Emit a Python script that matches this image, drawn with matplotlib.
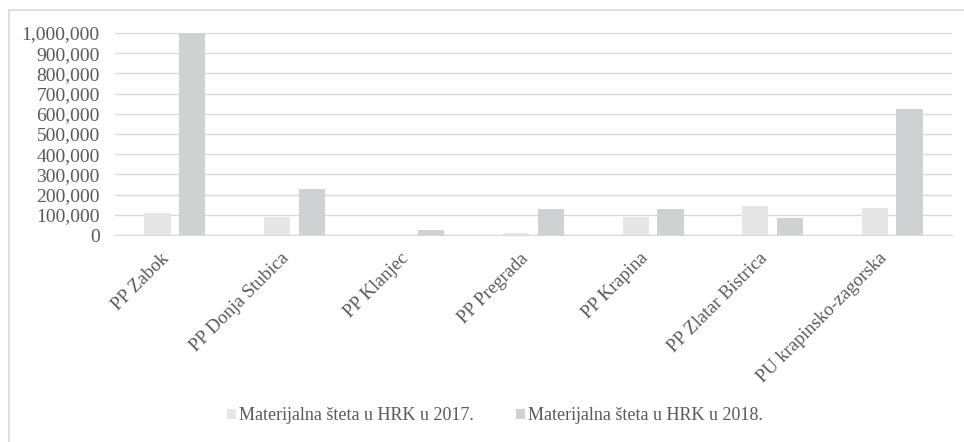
import numpy as np
import matplotlib.pyplot as plt
from matplotlib.patches import Rectangle
from matplotlib.ticker import FuncFormatter
from matplotlib.transforms import ScaledTranslation

stations = ['PP Zabok', 'PP Donja Stubica', 'PP Klanjec', 'PP Pregrada',
            'PP Krapina', 'PP Zlatar Bistrica', 'PU krapinsko-zagorska']
steta_2017 = [107000, 91000, 0, 11000, 90000, 144000, 132000]
steta_2018 = [998000, 228000, 25000, 129000, 129000, 83000, 624000]

plt.rcParams['font.family'] = ['Liberation Serif', 'DejaVu Serif']
txt = '#595959'
grid_c = '#d9d9d9'

fig = plt.figure(figsize=(9.64, 4.42), dpi=100)
ax = fig.add_axes([115/964, 1-235/442, (952-115)/964, (235-33)/442])

# okvir oko grafikona
fig.patches.append(Rectangle((9/964, -0.05), 1.1, 1-10/442+0.05,
                             transform=fig.transFigure, fill=False,
                             edgecolor=grid_c, linewidth=1.2))

x = np.arange(len(stations))
w = 0.22
ax.bar(x - 0.145, steta_2017, w, color='#e6e6e7', label='Materijalna šteta u HRK u 2017.', zorder=3)
ax.bar(x + 0.145, steta_2018, w, color='#d0d1d3', label='Materijalna šteta u HRK u 2018.', zorder=3)

ax.set_xlim(-0.5, len(stations) - 0.5)
ax.set_ylim(0, 1000000)
ax.set_yticks(np.arange(0, 1000001, 100000))
ax.yaxis.set_major_formatter(FuncFormatter(lambda v, p: f'{int(v):,}'))
ax.grid(axis='y', color=grid_c, linewidth=1, zorder=0)
for s in ['top', 'right', 'left']:
    ax.spines[s].set_visible(False)
ax.spines['bottom'].set_color(grid_c)
ax.tick_params(axis='both', length=0, colors=txt, labelsize=14)
ax.tick_params(axis='y', pad=11)

ax.set_xticks(x)
ax.set_xticklabels(stations, rotation=45, ha='right', va='center',
                   rotation_mode='anchor', fontsize=13.5, color=txt)
ax.tick_params(axis='x', pad=15)
pomak = ScaledTranslation(-8/100, 0, fig.dpi_scale_trans)
for lbl in ax.get_xticklabels():
    lbl.set_transform(lbl.get_transform() + pomak)

leg = fig.legend(loc='center', bbox_to_anchor=(495/964, 1-416/442), ncol=2,
                 frameon=False, fontsize=13, handlelength=0.5, handleheight=0.5,
                 columnspacing=2.3, handletextpad=0.2)
for t in leg.get_texts():
    t.set_color(txt)

fig.savefig('out.png', dpi=100)
